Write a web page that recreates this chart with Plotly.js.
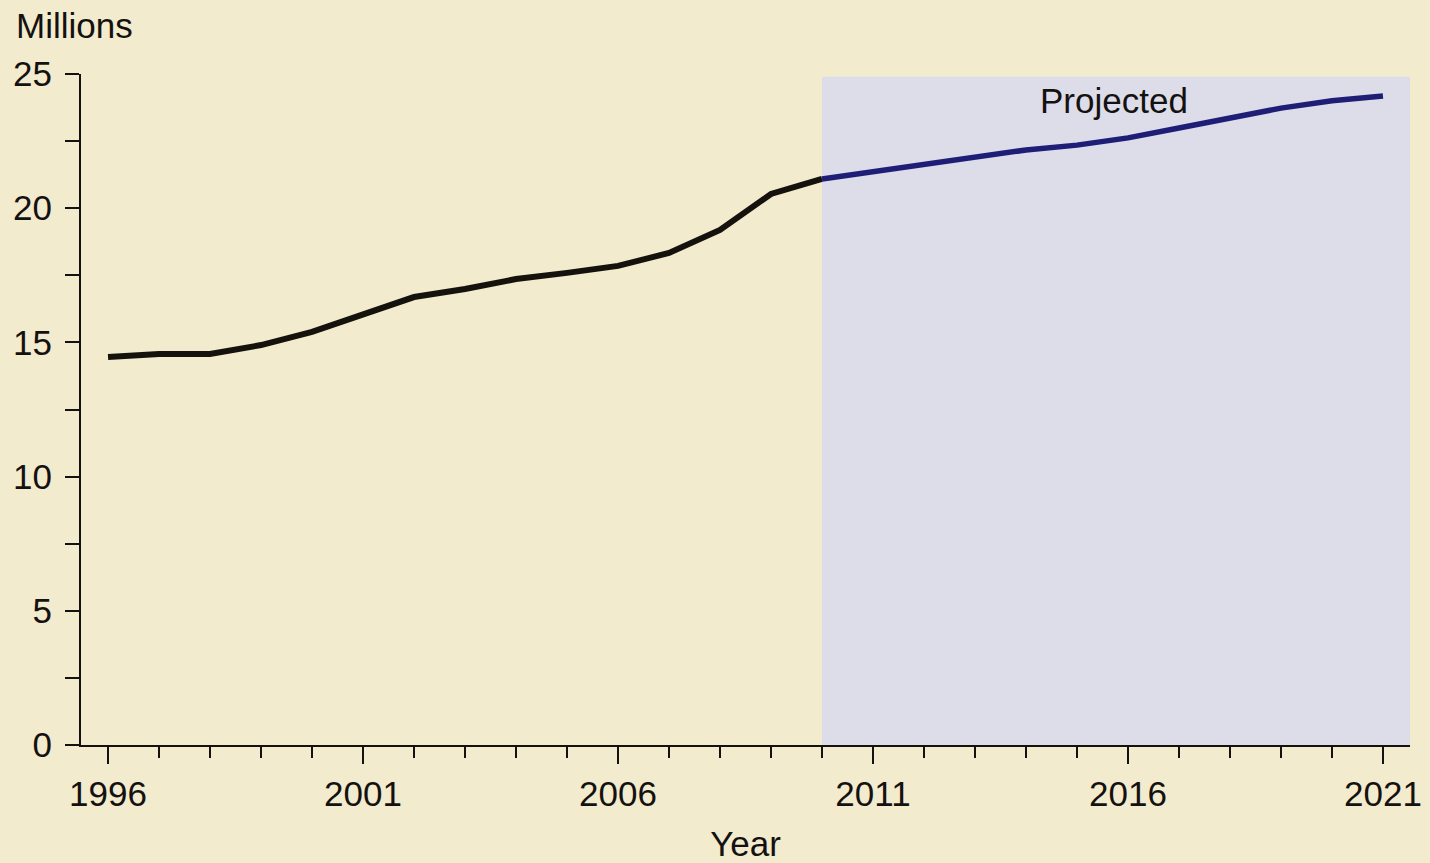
<!DOCTYPE html>
<html>
<head>
<meta charset="utf-8">
<script src="https://cdn.plot.ly/plotly-3.0.1.min.js"></script>
<style>
html,body{margin:0;padding:0;background:#f3ebcd;}
#chart{width:1430px;height:863px;}
</style>
</head>
<body>
<div id="chart"></div>
<script>
const histYears = [1996,1997,1998,1999,2000,2001,2002,2003,2004,2005,2006,2007,2008,2009,2010];
const histValues = [14.46,14.57,14.57,14.9,15.39,16.02,16.69,16.99,17.36,17.59,17.85,18.33,19.19,20.53,21.09];
const projYears = [2010,2011,2012,2013,2014,2015,2016,2017,2018,2019,2020,2021];
const projValues = [21.09,21.35,21.65,21.91,22.17,22.35,22.62,22.99,23.36,23.73,24.0,24.18];
const yTicks = [0,5,10,15,20,25];
const xTicks = [1996,2001,2006,2011,2016,2021];
const projStart = 2010;
const projTop = 24.9;

const font = {family:'"Liberation Sans", Arial, Helvetica, sans-serif', size:35, color:'#141210'};

const traces = [
  {x:histYears, y:histValues, type:'scatter', mode:'lines',
   line:{color:'#15110d', width:6}, hoverinfo:'x+y', showlegend:false},
  {x:projYears, y:projValues, type:'scatter', mode:'lines',
   line:{color:'#1e1e76', width:5.5}, hoverinfo:'x+y', showlegend:false}
];

const layout = {
  width:1430, height:863,
  margin:{l:81, r:20, t:74, b:118},
  paper_bgcolor:'#f3ebcd',
  plot_bgcolor:'rgba(0,0,0,0)',
  font:font,
  xaxis:{
    range:[1995.47,2021.53],
    tickvals:xTicks, ticktext:xTicks.map(String),
    ticks:'outside', ticklen:17, tickwidth:2, tickcolor:'#141210',
    minor:{dtick:1, tick0:1996, ticks:'outside', ticklen:11, tickwidth:2, tickcolor:'#141210', showgrid:false},
    showline:true, linecolor:'#141210', linewidth:2,
    showgrid:false, zeroline:false,
    ticklabelstandoff:0,
    title:{text:'Year', font:font, standoff:22}
  },
  yaxis:{
    range:[0,25],
    tickvals:yTicks, ticktext:yTicks.map(String),
    ticks:'outside', ticklen:14, tickwidth:2, tickcolor:'#141210',
    minor:{dtick:2.5, tick0:0, ticks:'outside', ticklen:14, tickwidth:2, tickcolor:'#141210', showgrid:false},
    showline:true, linecolor:'#141210', linewidth:2,
    showgrid:false, zeroline:false,
    ticklabelstandoff:6
  },
  shapes:[
    {type:'rect', xref:'x', yref:'y', x0:projStart, x1:2021.53, y0:0, y1:projTop,
     fillcolor:'#dcdde9', line:{width:0}, layer:'below'}
  ],
  annotations:[
    {text:'Projected', xref:'x', yref:'y', x:2015.73, y:24.03, showarrow:false,
     xanchor:'center', yanchor:'middle', font:font},
    {text:'Millions', xref:'paper', yref:'paper', x:-0.0504, y:1.073, showarrow:false,
     xanchor:'left', yanchor:'middle', font:font}
  ]
};

Plotly.newPlot('chart', traces, layout, {displayModeBar:false, staticPlot:true});
</script>
</body>
</html>
